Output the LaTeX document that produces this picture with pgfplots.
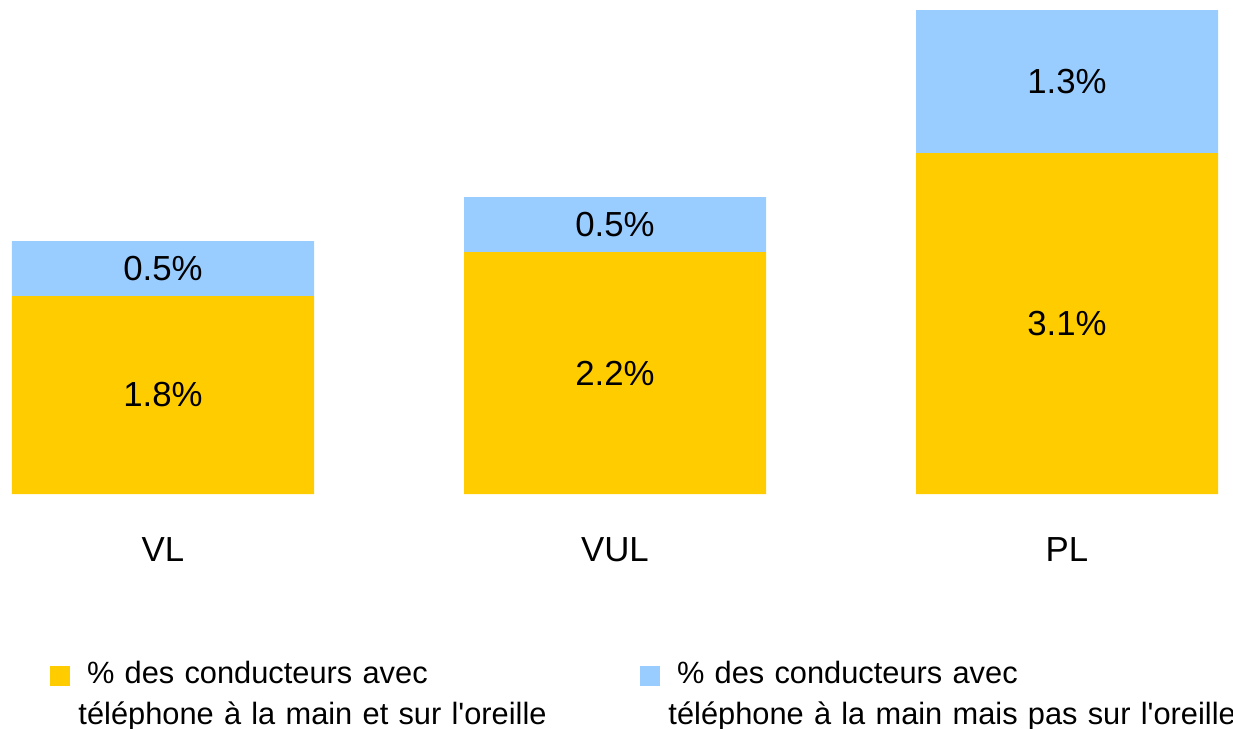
\documentclass[border=0pt]{standalone}
\usepackage{fontspec}
\setmainfont{Liberation Sans}
\usepackage{pgfplots}
\pgfplotsset{compat=1.18}
\definecolor{cyellow}{HTML}{FFCC00}
\definecolor{cblue}{HTML}{99CCFF}
\newcommand{\cfont}{\fontsize{17.4}{21}\selectfont}
\newcommand{\lfont}{\fontsize{15.4}{20.5}\selectfont}
\begin{document}
\cfont
\begin{tikzpicture}[font=\cfont]
\begin{axis}[
  at={(0pt,117.5pt)}, anchor=south west,
  scale only axis, width=616.5pt, height=247pt,
  xmin=-0.36062, xmax=2.36726, ymin=0, ymax=4.490909,
  ybar stacked, bar width=151pt,
  axis line style={draw=none}, major tick length=0pt,
  xtick={0,1,2}, xticklabels={VL,VUL,PL}, ytick=\empty,
  xticklabel style={anchor=center, yshift=-27.75pt, font=\cfont, text=black},
  clip=false,
  legend columns=2,
  legend style={at={(0.04055,-0.3312)}, anchor=north west, draw=none, fill=none,
    inner sep=0pt, outer sep=0pt, font=\lfont, row sep=0pt,
    cells={anchor=north west, align=left, text width=278pt, inner sep=0pt, font=\lfont},
    /tikz/every odd column/.append style={column sep=2.25pt},
    /tikz/every even column/.append style={column sep=0.75pt}},
]
\addplot[fill=cyellow, draw=none,
  legend image code/.code={\fill[cyellow] (0pt,-4pt) rectangle (10pt,-14pt);},
  visualization depends on=value \thisrow{v} \as \rawv,
  nodes near coords={\rawv\%},
  every node near coord/.append style={anchor=center, font=\cfont, text=black}]
  table[x=x, y=v] {
x v
0 1.8
1 2.2
2 3.1
};
\addlegendentry{\hspace*{0.278em}\% des conducteurs avec\\\mbox{téléphone à la main et sur l\textquotesingle oreille}}
\addplot[fill=cblue, draw=none,
  legend image code/.code={\fill[cblue] (0pt,-4pt) rectangle (10pt,-14pt);},
  visualization depends on=value \thisrow{v} \as \rawv,
  nodes near coords={\rawv\%},
  every node near coord/.append style={anchor=center, font=\cfont, text=black}]
  table[x=x, y=v] {
x v
0 0.5
1 0.5
2 1.3
};
\addlegendentry{\hspace*{0.278em}\% des conducteurs avec\\\mbox{téléphone à la main mais pas sur l\textquotesingle oreille}}
\end{axis}
\pgfresetboundingbox
\useasboundingbox (0,0) rectangle (616.5pt,364.5pt);
\end{tikzpicture}
\end{document}
